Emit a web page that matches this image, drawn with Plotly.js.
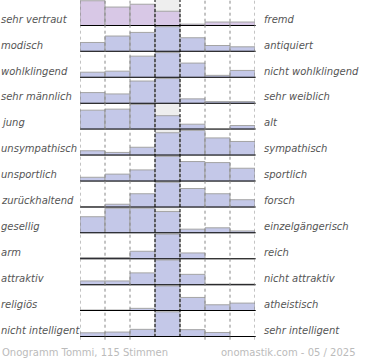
<!DOCTYPE html>
<html>
<head>
<meta charset="utf-8">
<script src="https://cdn.plot.ly/plotly-3.0.1.min.js"></script>
<style>html,body{margin:0;padding:0;background:#fff;}#chart{width:370px;height:360px;}</style>
</head>
<body>
<div id="chart"></div>
<script>
// Left / right poles of each semantic differential row
const leftLabels = ["sehr vertraut","modisch","wohlklingend","sehr männlich","jung","unsympathisch","unsportlich","zurückhaltend","gesellig","arm","attraktiv","religiös","nicht intelligent"];
const rightLabels = ["fremd","antiquiert","nicht wohlklingend","sehr weiblich","alt","sympathisch","sportlich","forsch","einzelgängerisch","reich","nicht attraktiv","atheistisch","sehr intelligent"];
// seven answer steps per row
const steps = [1,2,3,4,5,6,7];
// relative bar heights (one array per row)
const row01 = [24, 18, 20.7, 14, 1.7, 3.7, 3.7];
const row02 = [9.3, 15.7, 19.3, 25, 14, 6.3, 5];
const row03 = [5.3, 6.3, 20.6, 24, 14, 2.3, 7];
const row04 = [10.6, 9.3, 21.6, 24, 4.6, 2, 2];
const row05 = [19, 20, 24.6, 13.6, 5.3, 0, 4];
const row06 = [4.6, 3, 8, 22, 24.3, 17, 13.6];
const row07 = [4, 7, 11, 24, 19, 18, 12.6];
const row08 = [0.5, 3, 13, 24, 18, 13, 7.3];
const row09 = [16, 24.3, 24.3, 21, 4, 5.3, 2.3];
const row10 = [1.6, 1.6, 7.6, 24, 6, 0, 0];
const row11 = [4, 4, 11.7, 24, 10.3, 1, 1];
const row12 = [1, 1, 2.6, 24, 13, 6, 7.6];
const row13 = [4, 4.7, 7.3, 24, 7, 4.3, 0];
const rows = [row01,row02,row03,row04,row05,row06,row07,row08,row09,row10,row11,row12,row13];
const footerLeft = "Onogramm Tommi, 115 Stimmen";
const footerRight = "onomastik.com - 05 / 2025";

const n = rows.length;
const traces = [];
const layout = {
  width: 370, height: 360,
  margin: {l: 80, r: 115, t: 0, b: 23},
  paper_bgcolor: "#ffffff", plot_bgcolor: "rgba(0,0,0,0)",
  showlegend: false, bargap: 0,
  font: {family: "DejaVu Sans", size: 10, color: "#555"},
  xaxis: {range: [0.5, 7.5], showgrid: false, zeroline: false, showticklabels: false, ticks: "", fixedrange: true},
  shapes: [], annotations: []
};
// center column background
layout.shapes.push({type: "rect", xref: "x", yref: "paper", x0: 3.5, x1: 4.5, y0: 0, y1: 1, fillcolor: "#eeeeee", line: {width: 0}, layer: "below"});

rows.forEach((vals, i) => {
  const k = i + 1;
  const ya = k === 1 ? "y" : "y" + k;
  const yname = k === 1 ? "yaxis" : "yaxis" + k;
  const top = 1 - i / n, bot = 1 - (i + 1) / n;
  const mx = Math.max(...vals);
  layout[yname] = {domain: [bot, top], range: [0, mx * 1.03], showgrid: false, zeroline: false, showticklabels: false, ticks: "", fixedrange: true};
  traces.push({
    type: "bar", x: steps, y: vals, xaxis: "x", yaxis: ya,
    marker: {color: k === 1 ? "#d8c8e6" : "#c4c8e8", line: {color: "#a4a4a4", width: 1}},
    hoverinfo: "skip"
  });
  layout.shapes.push({type: "line", xref: "paper", yref: ya, x0: 0, x1: 1.004, y0: 0, y1: 0, line: {color: "#000", width: 2}, layer: "above"});
  layout.annotations.push({xref: "paper", yref: ya + " domain", x: -0.462, y: -0.03, xanchor: "left", yanchor: "bottom", showarrow: false, text: leftLabels[i], font: {family: "DejaVu Sans", size: 10, color: "#555", style: "italic"}});
  layout.annotations.push({xref: "paper", yref: ya + " domain", x: 1.04, y: -0.03, xanchor: "left", yanchor: "bottom", showarrow: false, text: rightLabels[i], font: {family: "DejaVu Sans", size: 10, color: "#555", style: "italic"}});
});
// vertical separators
[0.5, 1.5, 2.5, 5.5, 6.5, 7.5].forEach(x => layout.shapes.push({type: "line", xref: "x", yref: "paper", x0: x, x1: x, y0: -0.008, y1: 1, line: {color: "#888", width: 1, dash: "dot"}, layer: "above"}));
[3.5, 4.5].forEach(x => layout.shapes.push({type: "line", xref: "x", yref: "paper", x0: x, x1: x, y0: 0, y1: 1, line: {color: "#000", width: 1, dash: "3px,2px"}, layer: "above"}));
// footer
layout.annotations.push({xref: "paper", yref: "paper", x: -0.457, y: -0.045, xanchor: "left", yanchor: "middle", showarrow: false, text: footerLeft, font: {family: "DejaVu Sans", size: 10, color: "#bbbbbb"}});
layout.annotations.push({xref: "paper", yref: "paper", x: 0.795, y: -0.045, xanchor: "left", yanchor: "middle", showarrow: false, text: footerRight, font: {family: "DejaVu Sans", size: 10, color: "#bbbbbb"}});

Plotly.newPlot("chart", traces, layout, {displayModeBar: false, staticPlot: true});
</script>
</body>
</html>
